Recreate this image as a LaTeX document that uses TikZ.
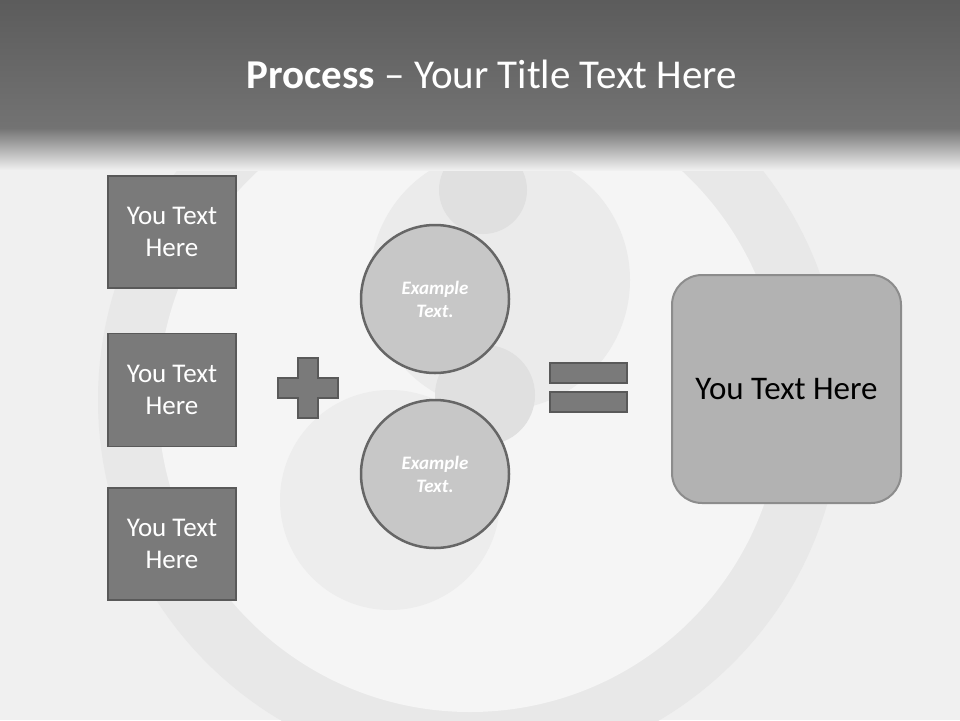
\documentclass[tikz,border=0pt]{standalone}
\usepackage{fontspec}
\setmainfont{Carlito}
\begin{document}
\begin{tikzpicture}[x=1pt,y=-1pt,
 box/.style={draw=black!65,line width=1.5pt,fill=black!52,text=white,align=center,font=\fontsize{27}{32}\selectfont,inner sep=0pt},
 circ/.style={circle,draw=black!60,line width=2.5pt,fill=black!22,text=white,align=center,font=\bfseries\itshape\fontsize{19}{23}\selectfont,minimum size=148pt},
 sym/.style={draw=black!65,line width=1.5pt,fill=black!52}]
\useasboundingbox (0,0) rectangle (960,720);
\fill[black!6] (0,0) rectangle (960,720);
% faint yin-yang background
\fill[black!9] (470,400) circle (372);
\fill[black!4] (470,400) circle (312);
\fill[black!8] (500,280) circle (130);
\fill[black!12] (483,190) circle (44);
\fill[black!12] (485,395) circle (50);
\fill[black!7] (390,500) circle (110);
% title band
\shade[top color=black!64,bottom color=black!55] (0,0) rectangle (960,128);
\shade[top color=black!55,bottom color=black!6] (0,128) rectangle (960,170);
\node[text=white,font=\fontsize{41}{44}\selectfont] (title) at (492,74) {\textbf{Process} -- Your Title Text Here};
% left boxes
\node[box,minimum width=128pt,minimum height=112pt] (b1) at (172,232) {You Text\\Here};
\node[box,minimum width=128pt,minimum height=113pt] (b2) at (172,390) {You Text\\Here};
\node[box,minimum width=128pt,minimum height=112pt] (b3) at (172,544) {You Text\\Here};
% plus
\draw[sym] (298,358) -- (318,358) -- (318,378) -- (338,378) -- (338,398) -- (318,398) -- (318,418) -- (298,418) -- (298,398) -- (278,398) -- (278,378) -- (298,378) -- cycle;
% circles
\node[circ] (c1) at (435,299) {Example\\Text.};
\node[circ] (c2) at (435,474) {Example\\Text.};
% equals
\draw[sym] (550,363) rectangle (627,383);
\draw[sym] (550,392) rectangle (627,412);
% result
\node[draw=black!45,line width=2pt,fill=black!30,rounded corners=30pt,minimum width=229pt,minimum height=228pt,font=\fontsize{33}{36}\selectfont] (r) at (786.5,389) {You Text Here};
\end{tikzpicture}
\end{document}
